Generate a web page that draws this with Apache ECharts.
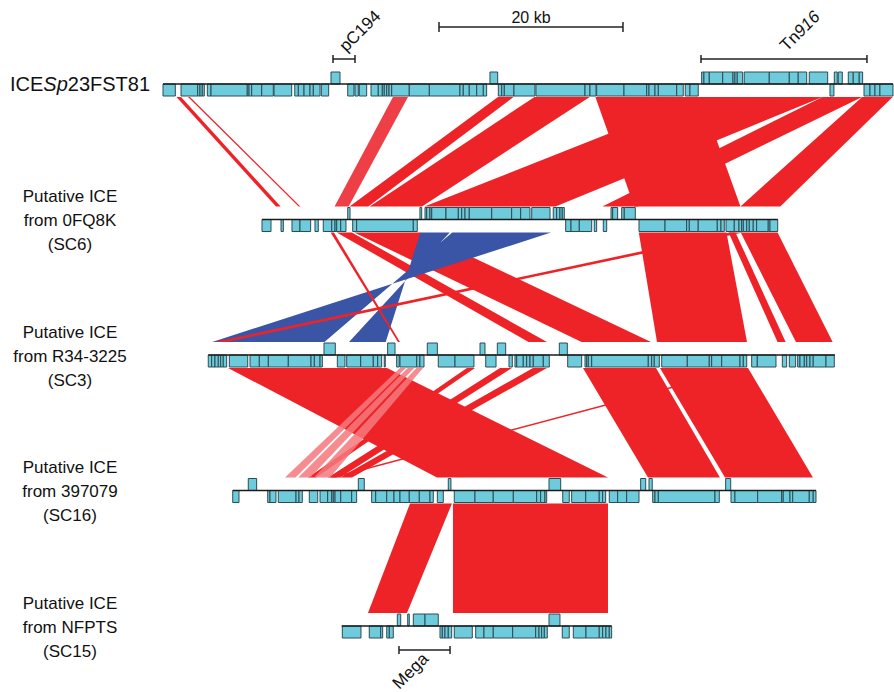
<!DOCTYPE html>
<html>
<head>
<meta charset="utf-8">
<script src="https://cdn.jsdelivr.net/npm/echarts@6/dist/echarts.min.js"></script>
<style>
  html, body { margin: 0; padding: 0; background: #ffffff; }
  #chart { width: 894px; height: 692px; }
</style>
</head>
<body>
<div id="chart"></div>
<script>
// ---- Element maps: positions in kb along the aligned map, one track per element ----
const trackLabels = [
  ['{b|ICE}{bi|Sp}{b|23FST81}'],
  ['Putative ICE', 'from 0FQ8K', '(SC6)'],
  ['Putative ICE', 'from R34-3225', '(SC3)'],
  ['Putative ICE', 'from 397079', '(SC16)'],
  ['Putative ICE', 'from NFPTS', '(SC15)']
];

// backbone extent of each element [start, end]
const trackSpans = [[0, 79.35], [10.76, 66.82], [4.92, 73.04], [7.58, 70.98], [19.42, 48.77]];

// genes on the forward strand (drawn above the backbone) and reverse strand (below)
const track1Above = [[18.26,19.24],[35.54,36.38],[58.55,58.80],[58.80,59.38],[59.38,60.84],[60.84,61.96],[61.96,62.17],[62.17,62.42],[62.42,63.01],[63.18,65.90],[65.90,68.08],[68.08,69.05],[69.05,69.97],[70.25,72.25],[72.97,73.29],[73.40,73.84],[74.49,75.03],[75.03,75.68],[75.68,76.05]];
const track1Below = [[0,1.34],[1.96,3.77],[3.77,4.02],[4.02,4.27],[4.27,4.49],[4.82,5.22],[5.22,9.16],[9.16,9.35],[9.35,9.64],[9.64,10.73],[10.73,11.99],[12.07,13.99],[14.32,14.71],[14.71,15.33],[15.33,15.98],[15.98,16.34],[16.34,17.07],[17.21,18.01],[20.08,20.76],[20.87,21.23],[21.34,22.14],[22.61,23.40],[23.40,23.84],[23.84,24.05],[24.05,24.32],[24.32,24.57],[24.57,24.86],[24.86,26.77],[26.77,28.95],[28.95,32.28],[32.28,32.64],[32.64,33.29],[33.29,34.10],[34.10,34.82],[34.82,35.18],[36.45,36.82],[36.82,37.10],[37.10,38.15],[38.15,40.43],[40.54,45.87],[45.87,46.41],[46.41,47.07],[47.14,50.11],[50.11,52.58],[52.58,52.83],[52.83,53.48],[53.48,53.84],[53.84,55.84],[55.84,56.55],[56.77,57.28],[57.28,58.18],[72.50,72.93],[76.20,76.85],[76.85,77.39],[77.39,77.93],[77.93,79.35]];

const track2Above = [[20.08,20.33],[27.93,28.12],[28.48,28.66],[28.66,29.02],[29.02,29.21],[29.21,30.76],[30.76,32.10],[32.10,32.47],[32.47,32.83],[32.83,33.29],[33.29,35.73],[35.73,37.90],[37.90,38.88],[38.88,39.89],[40.08,42.07],[42.42,42.79],[42.79,43.15],[43.15,43.40],[43.40,43.62],[48.70,48.88],[48.88,49.42],[49.86,50.14],[50.14,51.34]];
const track2Below = [[10.76,11.74],[12.83,13.08],[14.02,14.89],[14.89,16.05],[16.52,16.88],[17.42,18.34],[18.34,18.70],[18.70,18.88],[18.88,19.32],[19.32,19.89],[20.62,21.05],[21.05,27.21],[27.21,27.64],[43.77,44.35],[44.35,45.25],[45.25,46.60],[46.88,47.14],[47.86,48.23],[51.74,54.57],[54.57,56.92],[56.92,57.21],[57.21,58.18],[58.18,60.25],[60.25,60.65],[60.65,61.01],[61.20,62.10],[62.10,62.61],[62.61,62.90],[62.90,63.08],[63.08,63.45],[63.45,63.73],[63.73,64.16],[64.16,64.53],[64.53,65.79],[65.79,65.98],[65.98,66.82]];

const track3Above = [[17.50,18.73],[24.42,25.22],[28.73,29.82],[34.46,35.00],[36.34,37.25],[43.08,43.95]];
const track3Below = [[4.92,5.29],[5.29,5.65],[5.65,6.01],[6.01,6.27],[6.27,6.55],[6.55,6.92],[7.21,9.21],[9.46,10.47],[10.47,11.45],[11.45,13.62],[13.62,16.09],[16.09,16.45],[16.45,17.07],[17.07,17.32],[18.95,19.78],[19.97,21.49],[21.49,22.86],[22.86,23.34],[23.34,23.77],[24.05,24.16],[25.40,25.68],[25.76,27.58],[27.58,27.93],[27.93,28.37],[29.92,31.74],[31.74,33.80],[35.08,36.20],[37.61,37.97],[38.26,38.45],[38.45,39.16],[39.16,39.53],[39.53,39.89],[39.89,40.25],[40.25,41.34],[41.34,41.99],[43.99,45.51],[45.87,46.05],[46.05,46.23],[46.23,46.60],[46.60,52.75],[52.75,53.12],[53.12,53.40],[53.40,53.95],[54.21,56.99],[56.99,59.38],[59.38,59.64],[59.64,60.73],[60.73,62.72],[62.72,63.08],[63.08,63.45],[63.99,64.60],[64.60,66.63],[67.32,67.79],[68.08,68.77],[68.99,69.24],[69.24,69.71],[69.71,69.97],[69.97,70.33],[70.33,70.68],[70.68,72.07],[72.07,72.97]];

const track4Above = [[9.27,10.18],[21.23,21.88],[31.01,31.30],[41.96,43.23],[51.92,52.47],[52.83,53.18],[61.16,61.71]];
const track4Below = [[7.58,8.26],[11.38,11.63],[11.63,12.28],[12.53,14.46],[14.46,14.78],[14.78,15.14],[15.90,16.82],[17.07,17.90],[17.90,18.34],[18.34,18.51],[18.51,18.70],[18.70,19.32],[19.32,20.51],[20.51,21.05],[22.68,23.12],[23.12,24.32],[24.32,25.11],[25.11,25.76],[25.76,26.77],[26.77,27.86],[27.86,29.02],[29.02,29.38],[29.82,30.47],[31.66,33.91],[33.91,35.90],[35.90,38.08],[38.08,40.62],[40.62,41.05],[41.05,41.52],[41.52,41.71],[43.45,44.16],[44.42,45.95],[45.95,47.42],[47.42,47.79],[47.79,48.12],[48.51,49.42],[49.42,50.40],[50.40,51.74],[53.23,53.48],[53.48,53.84],[53.84,60.00],[60.00,60.47],[61.74,62.17],[62.17,64.64],[64.64,67.25],[67.25,67.42],[67.42,68.15],[68.15,68.45],[68.45,70.25],[70.25,70.68],[70.68,70.98]];

const track5Above = [[25.47,25.84],[26.60,26.77],[27.21,28.48],[28.48,29.92],[41.96,43.15]];
const track5Below = [[19.49,21.52],[22.42,23.66],[23.66,23.88],[24.32,24.60],[24.60,25.03],[30.11,30.36],[30.36,30.65],[30.65,31.01],[31.01,31.38],[31.66,33.62],[33.99,34.89],[34.89,35.90],[35.90,38.01],[38.01,40.51],[40.51,40.87],[40.87,41.16],[41.16,41.45],[41.45,41.77],[43.40,44.16],[44.60,45.98],[45.98,47.42],[47.42,47.79],[47.79,48.15],[48.15,48.51],[48.51,48.77]];

// ---- BLASTn matches between neighbouring elements: [upper start, upper end, lower start, lower end, kind] ----
const matches12 = [
  [1.46, 1.96, 12.28, 12.79, 'fwd'],
  [2.72, 2.93, 14.74, 14.93, 'fwd'],
  [25.00, 26.63, 18.65, 20.18, 'weak'],
  [36.41, 38.10, 20.28, 22.32, 'fwd'],
  [40.38, 46.39, 22.47, 28.15, 'fwd'],
  [47.00, 58.50, 51.23, 62.77, 'fwd'],
  [58.50, 71.68, 28.42, 42.67, 'fwd'],
  [71.68, 76.00, 47.76, 51.58, 'fwd'],
  [76.00, 79.32, 62.77, 67.10, 'fwd']
];
const matches23 = [
  [18.88, 20.52, 39.74, 41.74, 'fwd'],
  [20.79, 27.98, 45.50, 53.04, 'fwd'],
  [51.72, 61.25, 53.70, 63.48, 'fwd'],
  [61.48, 62.23, 66.80, 67.68, 'fwd'],
  [62.80, 66.80, 68.80, 72.79, 'fwd'],
  [27.98, 31.17, 20.22, 24.21, 'inv'],
  [31.43, 42.17, 5.35, 17.55, 'inv'],
  [61.63, 63.04, 5.58, 6.96, 'fwd'],
  [18.22, 18.58, 25.54, 25.76, 'fwd']
];
const matches34 = [
  [7.07, 24.35, 29.78, 48.37, 'fwd'],
  [45.65, 53.59, 52.72, 60.54, 'fwd'],
  [54.02, 63.59, 61.09, 70.65, 'fwd'],
  [62.93, 63.59, 18.15, 18.80, 'fwd'],
  [33.04, 33.91, 15.76, 16.63, 'fwd'],
  [36.63, 37.93, 17.93, 19.24, 'fwd'],
  [40.22, 41.74, 19.24, 20.54, 'fwd'],
  [25.76, 26.40, 13.26, 14.40, 'pale'],
  [26.60, 27.30, 14.70, 16.00, 'pale'],
  [27.55, 28.26, 16.40, 18.15, 'pale']
];
const matches45 = [
  [26.85, 31.41, 22.28, 26.52, 'fwd'],
  [31.52, 48.37, 31.52, 48.37, 'fwd']
];

// ---- Annotated regions and scale ----
const featureLabels = ['pC194', '{n|Tn}{i|916}', 'Mega'];
const featureTracks = [0, 0, 4];
const featureStarts = [18.48, 58.48, 25.65];
const featureEnds = [20.87, 76.52, 31.20];
const scaleBar = [30, 50];
const scaleLabel = '20 kb';

// ---- Drawing ----
const GENE_H = 12;
const MATCH_GAP = 13;
const FONT = '"Liberation Sans", Arial, Helvetica, sans-serif';
const COLORS = { fwd: '#ee2328', weak: '#ef3f46', pale: 'rgba(244,120,124,0.85)', inv: '#3b55a6' };
const GENE_FILL = '#6ecbdb';
const GENE_EDGE = '#2c4c54';

const aboveSets = [track1Above, track2Above, track3Above, track4Above, track5Above];
const belowSets = [track1Below, track2Below, track3Below, track4Below, track5Below];
const matchSets = [matches12, matches23, matches34, matches45];

const geneData = [];
aboveSets.forEach((list, t) => list.forEach(g => geneData.push([t, g[0], g[1], 1])));
belowSets.forEach((list, t) => list.forEach(g => geneData.push([t, g[0], g[1], -1])));

const matchData = [];
const matchKinds = [];
matchSets.forEach((list, p) => list.forEach(m => {
  matchData.push([p, m[0], m[1], m[2], m[3]]);
  matchKinds.push(m[4]);
}));

const spanData = trackSpans.map((s, t) => [t, s[0], s[1]]);

const richStyles = {
  n: { fontFamily: FONT, fontSize: 17, fill: '#111' },
  i: { fontFamily: FONT, fontSize: 17, fontStyle: 'italic', fill: '#111' },
  b: { fontFamily: FONT, fontSize: 20, fill: '#111' },
  bi: { fontFamily: FONT, fontSize: 20, fontStyle: 'italic', fill: '#111' }
};

function renderMatch(params, api) {
  const p = api.value(0);
  const a1 = api.coord([api.value(1), p]);
  const a2 = api.coord([api.value(2), p]);
  const b1 = api.coord([api.value(3), p + 1]);
  const b2 = api.coord([api.value(4), p + 1]);
  const top = a1[1] + MATCH_GAP;
  const bot = b1[1] - MATCH_GAP;
  const kind = matchKinds[params.dataIndex];
  const pts = kind === 'inv'
    ? [[a1[0], top], [a2[0], top], [b1[0], bot], [b2[0], bot]]
    : [[a1[0], top], [a2[0], top], [b2[0], bot], [b1[0], bot]];
  return { type: 'polygon', shape: { points: pts }, style: { fill: COLORS[kind], stroke: null } };
}

function renderGene(params, api) {
  const t = api.value(0);
  const p1 = api.coord([api.value(1), t]);
  const p2 = api.coord([api.value(2), t]);
  const y = api.value(3) > 0 ? p1[1] - GENE_H : p1[1];
  return {
    type: 'rect',
    shape: { x: p1[0], y: y, width: p2[0] - p1[0], height: GENE_H },
    style: { fill: GENE_FILL, stroke: GENE_EDGE, lineWidth: 1 }
  };
}

function renderSpan(params, api) {
  const t = api.value(0);
  const p1 = api.coord([api.value(1), t]);
  const p2 = api.coord([api.value(2), t]);
  return {
    type: 'line',
    shape: { x1: p1[0], y1: p1[1], x2: p2[0], y2: p2[1] },
    style: { stroke: '#1b1b1b', lineWidth: 1.6 }
  };
}

function renderLabel(params, api) {
  const t = api.value(0);
  const y = api.coord([0, t])[1];
  const lines = trackLabels[t];
  const single = lines.length === 1;
  return {
    type: 'text',
    x: single ? 10 : 70,
    y: y + (single ? 0 : 1),
    style: {
      text: single ? lines[0] : lines.join('\n'),
      rich: richStyles,
      font: '17px ' + FONT,
      fill: '#111',
      align: single ? 'left' : 'center',
      verticalAlign: 'middle',
      lineHeight: 24
    }
  };
}

function bracket(x1, x2, y, tick) {
  return [
    { type: 'line', shape: { x1: x1, y1: y, x2: x2, y2: y }, style: { stroke: '#222', lineWidth: 1.5 } },
    { type: 'line', shape: { x1: x1, y1: y - tick, x2: x1, y2: y + tick }, style: { stroke: '#222', lineWidth: 1.5 } },
    { type: 'line', shape: { x1: x2, y1: y - tick, x2: x2, y2: y + tick }, style: { stroke: '#222', lineWidth: 1.5 } }
  ];
}

function renderFeature(params, api) {
  const i = params.dataIndex;
  const t = featureTracks[i];
  const p1 = api.coord([featureStarts[i], t]);
  const p2 = api.coord([featureEnds[i], t]);
  const above = t === 0;
  const y = above ? p1[1] - 25 : p1[1] + 24;
  const cx = (p1[0] + p2[0]) / 2;
  const children = bracket(p1[0], p2[0], y, 4);
  children.push({
    type: 'text',
    x: above ? cx + 16 : cx - 14,
    y: above ? y - 28 : y + 21,
    rotation: Math.PI / 4,
    style: {
      text: featureLabels[i],
      rich: richStyles,
      font: '17px ' + FONT,
      fill: '#111',
      align: 'center',
      verticalAlign: 'middle'
    }
  });
  return { type: 'group', children: children };
}

function renderScale(params, api) {
  const p1 = api.coord([scaleBar[0], 0]);
  const p2 = api.coord([scaleBar[1], 0]);
  const y = p1[1] - 57;
  const children = bracket(p1[0], p2[0], y, 5);
  children.push({
    type: 'text',
    x: (p1[0] + p2[0]) / 2,
    y: y - 10,
    style: { text: scaleLabel, font: '16px ' + FONT, fill: '#111', align: 'center', verticalAlign: 'middle' }
  });
  return { type: 'group', children: children };
}

const chart = echarts.init(document.getElementById('chart'), null, { renderer: 'svg', width: 894, height: 692 });
chart.setOption({
  animation: false,
  backgroundColor: '#ffffff',
  grid: { left: 163, right: 0, top: 84, bottom: 66 },
  xAxis: { type: 'value', min: 0, max: 79.46, show: false },
  yAxis: { type: 'value', min: 0, max: 4, inverse: true, show: false },
  series: [
    { type: 'custom', name: 'matches', renderItem: renderMatch, data: matchData, z: 1, silent: true },
    { type: 'custom', name: 'genes', renderItem: renderGene, data: geneData, z: 2, silent: true },
    { type: 'custom', name: 'backbone', renderItem: renderSpan, data: spanData, z: 3, silent: true },
    { type: 'custom', name: 'labels', renderItem: renderLabel, data: trackLabels.map((l, t) => [t]), z: 4, silent: true },
    { type: 'custom', name: 'features', renderItem: renderFeature, data: featureLabels.map((l, i) => [i]), z: 4, silent: true },
    { type: 'custom', name: 'scale', renderItem: renderScale, data: [[0]], z: 4, silent: true }
  ]
});
</script>
</body>
</html>
